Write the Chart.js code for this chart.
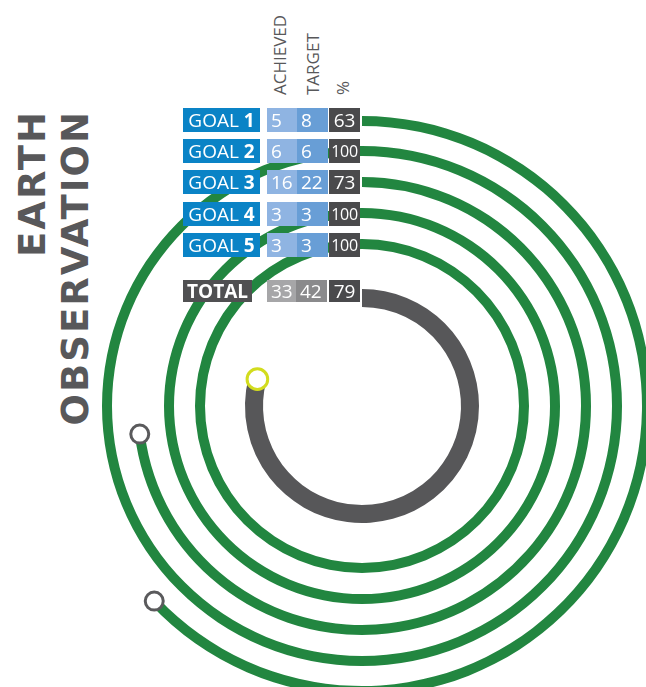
<!DOCTYPE html>
<html>
<head>
<meta charset="utf-8">
<script src="https://cdn.jsdelivr.net/npm/chart.js@4/dist/chart.umd.min.js"></script>
<style>
  html, body { margin: 0; padding: 0; background: #fff; }
  body { width: 646px; height: 687px; overflow: hidden; position: relative; font-family: "Open Sans", sans-serif; }
  #wrap { position: absolute; left: 72px; top: 116px; width: 580px; height: 580px; }
  .cell { position: absolute; height: 24px; line-height: 24px; color: #fff; white-space: nowrap; box-sizing: border-box; }
  .lbl { font-size: 19px; text-align: center; }
  .num { font-size: 19px; padding-left: 4px; }
  .pct { font-size: 19px; text-align: center; }
  .pct.small { font-size: 16px; letter-spacing: -0.3px; }
  .rot { position: absolute; transform-origin: 0 0; transform: rotate(-90deg); white-space: nowrap; }
  .head { font-size: 17px; line-height: 17px; color: #58585a; }
  .title { font-family: "DejaVu Sans", sans-serif; font-size: 37px; line-height: 43px; font-weight: 700; color: #58585a; letter-spacing: 2px; text-align: right; width: 330px; }
</style>
</head>
<body>
<div class="rot title" style="left:10.7px; top:440px;">EARTH<br>OBSERVATION</div>
<div class="rot head" style="left:271px; top:95px;">ACHIEVED</div>
<div class="rot head" style="left:303.5px; top:95px;">TARGET</div>
<div class="rot head" style="left:334px; top:95px;">%</div>
<div id="wrap"><canvas id="rings" width="580" height="580"></canvas></div>
<div id="table"></div>
<script>
// Goal figures
const goalNames = ['GOAL', 'GOAL', 'GOAL', 'GOAL', 'GOAL'];
const goalNumbers = ['1', '2', '3', '4', '5'];
const achieved = [5, 6, 16, 3, 3];
const target = [8, 6, 22, 3, 3];
const percent = [63, 100, 73, 100, 100];

// Overall figures
const totalLabel = 'TOTAL';
const totalAchieved = 33;
const totalTarget = 42;
const totalPercent = 79;

// Ring styling (outermost goal first, total ring innermost)
const GREEN = '#228640';
const GREY = '#575759';
const GAP = 'rgba(0,0,0,0)';

// Build the nested doughnut: one ring per goal, spacer rings between them
const datasets = [];
const gapWeights = [20, 21, 21, 21, 40];
percent.forEach((p, i) => {
  datasets.push({
    data: [p, 100 - p],
    backgroundColor: [GREEN, GAP],
    weight: 10,
    marker: p < 100 ? '#5a5a5c' : null,
    markerR: 9
  });
  datasets.push({ data: [1], backgroundColor: [GAP], weight: gapWeights[i] });
});
datasets.push({
  data: [totalPercent, 100 - totalPercent],
  backgroundColor: [GREY, GAP],
  weight: 18,
  marker: totalPercent < 100 ? '#d2dc1e' : null,
  markerR: 10.3
});

// Draws the hollow end-of-progress markers at each ring's end angle
const endMarkers = {
  id: 'endMarkers',
  afterDatasetsDraw(chart) {
    const ctx = chart.ctx;
    chart.data.datasets.forEach((ds, i) => {
      if (!ds.marker) return;
      const arc = chart.getDatasetMeta(i).data[0];
      const r = (arc.innerRadius + arc.outerRadius) / 2;
      const a = arc.endAngle;
      const px = arc.x + r * Math.cos(a);
      const py = arc.y + r * Math.sin(a);
      ctx.save();
      ctx.beginPath();
      ctx.arc(px, py, ds.markerR, 0, Math.PI * 2);
      ctx.fillStyle = '#fff';
      ctx.fill();
      ctx.lineWidth = 3;
      ctx.strokeStyle = ds.marker;
      ctx.stroke();
      ctx.restore();
    });
  }
};

new Chart(document.getElementById('rings'), {
  type: 'doughnut',
  data: { labels: ['done', 'left'], datasets },
  options: {
    responsive: false,
    animation: false,
    events: [],
    cutout: (99 / 290 * 100) + '%',
    elements: { arc: { borderWidth: 0 } },
    plugins: { legend: { display: false }, tooltip: { enabled: false } },
    layout: { padding: 0 }
  },
  plugins: [endMarkers]
});

// Figures table laid over the rings
const table = document.getElementById('table');
function cell(cls, left, top, width, height, bg, html) {
  const d = document.createElement('div');
  d.className = 'cell ' + cls;
  d.style.left = left + 'px';
  d.style.top = top + 'px';
  d.style.width = width + 'px';
  d.style.height = height + 'px';
  d.style.lineHeight = height + 'px';
  d.style.background = bg;
  d.innerHTML = html;
  table.appendChild(d);
  return d;
}
goalNames.forEach((name, i) => {
  const top = 108 + i * 31.2;
  cell('lbl', 183, top, 77, 24, '#0a83c6', name + ' <b>' + goalNumbers[i] + '</b>');
  cell('num', 267, top, 30, 24, '#8fb4e2', achieved[i]);
  cell('num', 297, top, 31, 24, '#689ed6', target[i]);
  cell('pct' + (percent[i] >= 100 ? ' small' : ''), 329, top, 31, 24, '#4a4a4c', percent[i]);
});
const tTop = 280;
cell('lbl', 183, tTop, 69, 22, '#505052', '<b>' + totalLabel + '</b>');
cell('num', 267, tTop, 29, 22, '#a6a6a8', totalAchieved);
cell('num', 296, tTop, 31, 22, '#8a8a8c', totalTarget);
cell('pct', 329, tTop, 31, 22, '#4a4a4c', totalPercent);
</script>
</body>
</html>
